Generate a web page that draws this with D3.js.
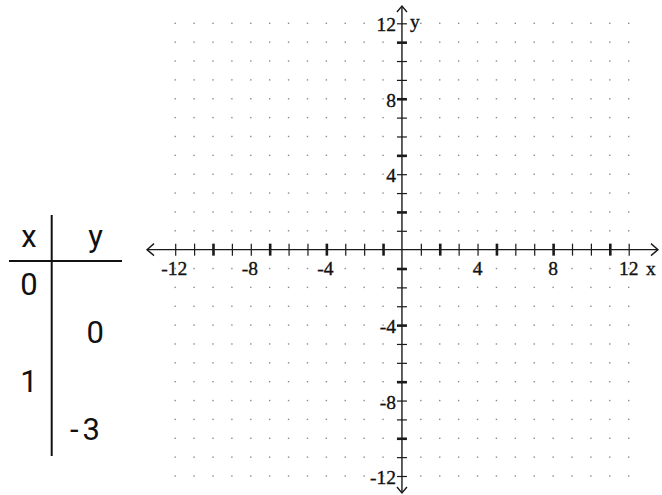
<!DOCTYPE html>
<html>
<head>
<meta charset="utf-8">
<script src="https://cdn.jsdelivr.net/npm/d3@7"></script>
<style>
html,body{margin:0;padding:0;background:#fff;}
svg{display:block;}
</style>
</head>
<body>
<svg id="chart" width="662" height="495"></svg>
<script>
// ---- data ----
const xTickValues = d3.range(-12, 13).filter(v => v !== 0);
const yTickValues = d3.range(-12, 13).filter(v => v !== 0);
const xTickLabels = [-12, -8, -4, 4, 8, 12];
const yTickLabels = [12, 8, 4, -4, -8, -12];
const gridX = d3.range(-12, 13);
const gridY = d3.range(-12, 13);
const tableHeaders = ["x", "y"];
const tableXCol = ["0", "", "1", ""];
const tableYCol = ["", "0", "", "-3"];

// ---- layout ----
const svg = d3.select("#chart");
const x = d3.scaleLinear().domain([-12, 12]).range([175.2, 628.7]);
const y = d3.scaleLinear().domain([-12, 12]).range([476, 23.3]);
const ox = x(0), oy = y(0);
const axisColor = "#1a1a1a";
const heavy = v => ((v % 3) + 3) % 3 === 2;

// dot grid
const pts = [];
gridX.forEach(i => gridY.forEach(j => { if (i !== 0 && j !== 0) pts.push([i, j]); }));
svg.append("g").selectAll("rect").data(pts).join("rect")
  .attr("x", d => x(d[0]) - 0.7).attr("y", d => y(d[1]) - 0.7)
  .attr("width", 1.4).attr("height", 1.4).attr("fill", "#8a8a8a");

// axes lines
const ax = svg.append("g").attr("stroke", axisColor).attr("fill", "none");
ax.append("line").attr("x1", 147).attr("x2", 658).attr("y1", oy).attr("y2", oy).attr("stroke-width", 1.4);
ax.append("line").attr("x1", ox).attr("x2", ox).attr("y1", 6).attr("y2", 493).attr("stroke-width", 1.4);
// arrowheads
ax.append("path").attr("d", `M154,${oy-6}L147,${oy}L154,${oy+6}`).attr("stroke-width", 1.4);
ax.append("path").attr("d", `M651,${oy-6}L658,${oy}L651,${oy+6}`).attr("stroke-width", 1.4);
ax.append("path").attr("d", `M${ox-5},12L${ox},6L${ox+5},12`).attr("stroke-width", 1.4);
ax.append("path").attr("d", `M${ox-5},487L${ox},493L${ox+5},487`).attr("stroke-width", 1.4);

// ticks via d3 axes (ticks on both sides)
const xAxis = d3.axisBottom(x).tickValues(xTickValues).tickSize(12).tickFormat("");
const gx = svg.append("g").attr("transform", `translate(0,${oy - 6})`).call(xAxis);
gx.select(".domain").remove();
gx.selectAll(".tick line").attr("stroke", axisColor)
  .attr("stroke-width", d => heavy(d) ? 2.6 : 1.2);

const yAxis = d3.axisRight(y).tickValues(yTickValues).tickSize(10).tickFormat("");
const gy = svg.append("g").attr("transform", `translate(${ox - 5},0)`).call(yAxis);
gy.select(".domain").remove();
gy.selectAll(".tick line").attr("stroke", axisColor)
  .attr("stroke-width", d => heavy(d) ? 2.6 : 1.2);

// tick labels
const serif = "'Liberation Serif','Times New Roman',serif";
const styleLbl = s => s.attr("font-family", serif).attr("font-size", 19.5)
  .attr("fill", "#111").attr("stroke", "#111").attr("stroke-width", 0.35);
svg.append("g").selectAll("text").data(xTickLabels).join("text")
  .attr("x", d => x(d) + (d < 0 ? -1 : 0)).attr("y", 275)
  .attr("text-anchor", "middle").call(styleLbl)
  .text(d => d < 0 ? "-" + Math.abs(d) : d);
svg.append("g").selectAll("text").data(yTickLabels).join("text")
  .attr("x", 396).attr("y", d => y(d) + 8)
  .attr("text-anchor", "end").call(styleLbl)
  .text(d => d < 0 ? "-" + Math.abs(d) : d);
svg.append("text").attr("x", 646).attr("y", 275).call(styleLbl).text("x");
svg.append("text").attr("x", 410).attr("y", 28).call(styleLbl).text("y");

// ---- table ----
const sans = "Roboto, 'Open Sans', sans-serif";
const tg = svg.append("g");
tg.append("line").attr("x1", 51.7).attr("x2", 51.7).attr("y1", 215).attr("y2", 456)
  .attr("stroke", "#111").attr("stroke-width", 2);
tg.append("line").attr("x1", 9).attr("x2", 122).attr("y1", 261).attr("y2", 261)
  .attr("stroke", "#111").attr("stroke-width", 2);
const colX = [29, 95.5];
tg.selectAll("text.h").data(tableHeaders).join("text").attr("class", "h")
  .attr("x", (d, i) => colX[i]).attr("y", 247).attr("text-anchor", "middle")
  .attr("font-family", sans).attr("font-size", 31).attr("fill", "#111").text(d => d);
const rowY = d3.scalePoint().domain(d3.range(4)).range([295, 440]);
tg.selectAll("text.cx").data(tableXCol).join("text").attr("class", "cx")
  .attr("x", colX[0]).attr("y", (d, i) => rowY(i)).attr("text-anchor", "middle")
  .attr("font-family", sans).attr("font-size", 31).attr("fill", "#111").text(d => d);
tg.selectAll("text.cy").data(tableYCol).join("text").attr("class", "cy")
  .attr("x", 104).attr("y", (d, i) => rowY(i)).attr("text-anchor", "end")
  .attr("font-family", sans).attr("font-size", 31).attr("fill", "#111")
  .attr("letter-spacing", d => d.length > 1 ? 4 : 0)
  .text(d => d);
</script>
</body>
</html>
